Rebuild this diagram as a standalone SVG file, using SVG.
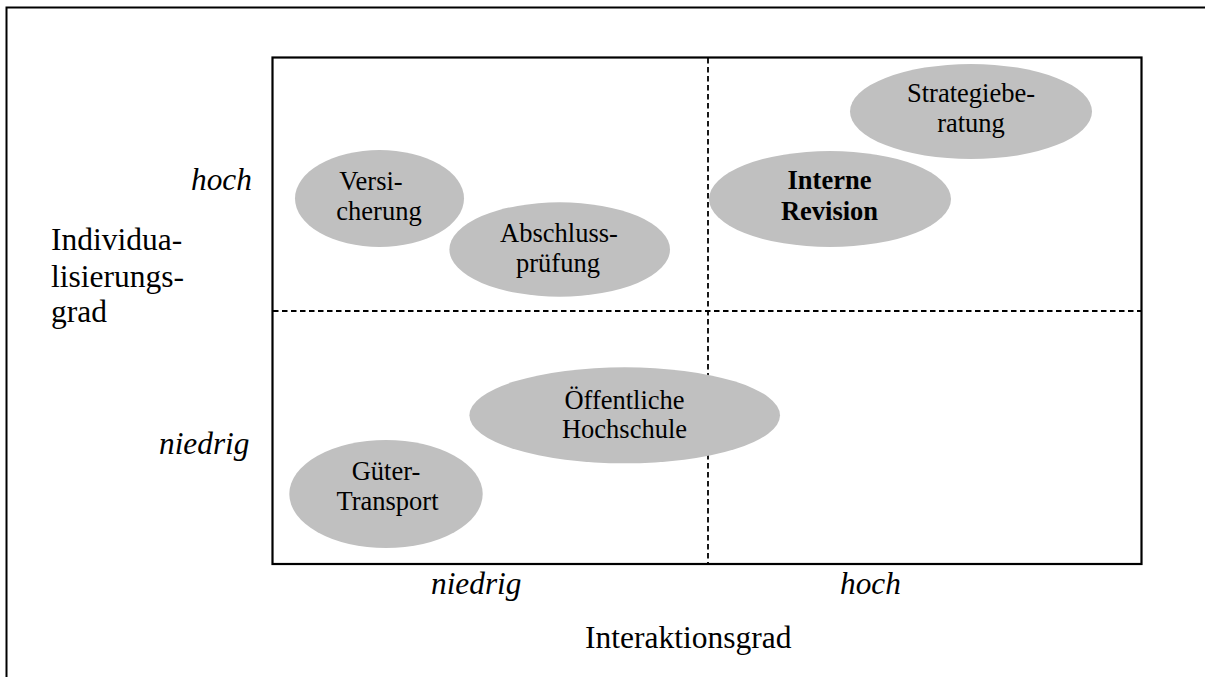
<svg xmlns="http://www.w3.org/2000/svg" width="1205" height="677" viewBox="0 0 1205 677">
<style>
.t{font-family:"Liberation Serif","Times New Roman",serif;fill:#000}
.n{font-size:26.5px;text-anchor:middle}
.b{font-weight:bold}
.ax{font-size:31.5px}
.it{font-size:31.3px;font-style:italic}
.el{fill:#c0c0c0;stroke:none}
.dash{stroke:#000;stroke-width:1.8;stroke-dasharray:5.5 3.5;fill:none}
</style>
<rect width="1205" height="677" fill="#fff"/>
<g id="frame" fill="none" stroke="#000" stroke-width="2">
<path d="M6.5 677 V7.5 H1205"/>
</g>
<g id="connectors">
<line class="dash" x1="708" y1="58" x2="708" y2="564"/>
<line class="dash" x1="273" y1="311" x2="1141" y2="311"/>
</g>
<rect id="matrix" x="272.5" y="57.5" width="869" height="506.5" fill="none" stroke="#000" stroke-width="2.2"/>
<g id="node-strategieberatung">
<ellipse class="el" cx="971" cy="111.5" rx="121" ry="47.5"/>
<text class="t n" x="971" y="102">Strategiebe-</text>
<text class="t n" x="971" y="132">ratung</text>
</g>
<g id="node-versicherung">
<ellipse class="el" cx="379.5" cy="198.5" rx="84.5" ry="48.5"/>
<text class="t n" x="371" y="190">Versi-</text>
<text class="t n" x="379" y="220">cherung</text>
</g>
<g id="node-abschlusspruefung">
<ellipse class="el" cx="559.7" cy="249.5" rx="110.3" ry="47.2"/>
<text class="t n" x="559" y="242">Abschluss-</text>
<text class="t n" x="558" y="272">prüfung</text>
</g>
<g id="node-interne-revision">
<ellipse class="el" cx="830" cy="199" rx="121" ry="48"/>
<text class="t n b" x="829.5" y="188.5">Interne</text>
<text class="t n b" x="829.5" y="219.5">Revision</text>
</g>
<g id="node-hochschule">
<ellipse class="el" cx="624.7" cy="415.3" rx="155.3" ry="48"/>
<text class="t n" x="624.5" y="409">Öffentliche</text>
<text class="t n" x="624.5" y="437.5">Hochschule</text>
</g>
<g id="node-gueter-transport">
<ellipse class="el" cx="386" cy="494" rx="96.7" ry="54"/>
<text class="t n" x="386" y="480">Güter-</text>
<text class="t n" x="387.5" y="510">Transport</text>
</g>
<g id="axis-y">
<text class="t it" x="191" y="189.5">hoch</text>
<text class="t it" x="159" y="454">niedrig</text>
<text class="t ax" x="51" y="250">Individua-</text>
<text class="t ax" x="51" y="286.5">lisierungs-</text>
<text class="t ax" x="51" y="321.5">grad</text>
</g>
<g id="axis-x">
<text class="t it" x="431" y="593.5">niedrig</text>
<text class="t it" x="840" y="594">hoch</text>
<text class="t ax" x="585" y="648">Interaktionsgrad</text>
</g>
</svg>
